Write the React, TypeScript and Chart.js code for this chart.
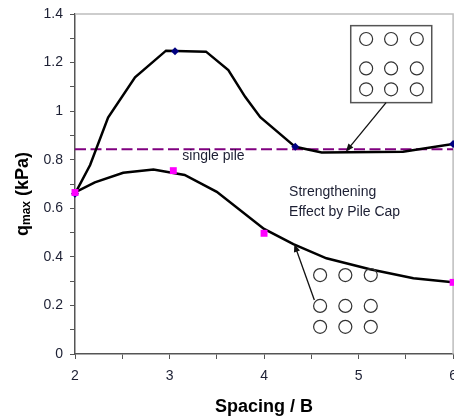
import React, { useEffect, useRef } from 'react';
import { Chart, registerables } from 'chart.js';
Chart.register(...registerables);

// Series data (Spacing / B vs q_max in kPa)
const upperX = [2, 2.16, 2.35, 2.635, 2.963, 3.386, 3.622, 3.8, 3.96, 4.33, 4.61, 5.47, 6];
const upperY = [0.66, 0.778, 0.974, 1.139, 1.249, 1.245, 1.169, 1.059, 0.975, 0.853, 0.83, 0.833, 0.865];
const lowerX = [2, 2.21, 2.51, 2.83, 3.16, 3.5, 4.0, 4.31, 4.66, 5.12, 5.58, 6];
const lowerY = [0.665, 0.707, 0.746, 0.76, 0.737, 0.668, 0.515, 0.452, 0.394, 0.349, 0.312, 0.295];
const diamondX = [2, 3.058, 4.33, 6];
const diamondY = [0.66, 1.247, 0.853, 0.865];
const squareX = [2, 3.04, 4.0, 6];
const squareY = [0.665, 0.755, 0.497, 0.295];
const singlePile = 0.843;
const xLabels = ['2', '3', '4', '5', '6'];
const yLabels = ['0', '0.2', '0.4', '0.6', '0.8', '1', '1.2', '1.4'];

// Annotation anchors (in data units)
const capBox = { x0: 4.917, x1: 5.774, y0: 1.352, y1: 1.035 };
const capCirclesX = [5.08, 5.344, 5.616];
const capCirclesY = [1.297, 1.176, 1.09];
const freeCirclesX = [4.593, 4.86, 5.129];
const freeCirclesY = [0.325, 0.198, 0.112];
const arrowCap = [5.291, 1.035, 4.865, 0.833];
const arrowFree = [4.532, 0.222, 4.32, 0.453];
const singlePileLabel = { x: 3.135, y: 0.815, text: 'single pile' };
const effectLabel = { x: 4.265, y: 0.667, lines: ['Strengthening', 'Effect by Pile Cap'], dy: 0.082 };

const FONT = '"Liberation Sans", Arial, sans-serif';
const TXT = '#1c1f33';

const pts = (xs: number[], ys: number[]) => xs.map((x, i) => ({ x, y: ys[i] }));

const annotPlugin = {
  id: 'annot',
  beforeDatasetsDraw(chart: any) {
    const { ctx, chartArea: a } = chart;
    ctx.save();
    ctx.strokeStyle = '#bdbdbd';
    ctx.lineWidth = 1.5;
    ctx.beginPath();
    ctx.moveTo(a.left, a.top);
    ctx.lineTo(a.right, a.top);
    ctx.lineTo(a.right, a.bottom);
    ctx.stroke();
    ctx.restore();
  },
  afterDatasetsDraw(chart: any) {
    const { ctx, scales } = chart;
    const px = (v: number) => scales.x.getPixelForValue(v);
    const py = (v: number) => scales.y.getPixelForValue(v);
    ctx.save();
    ctx.fillStyle = '#ffffff';
    ctx.strokeStyle = '#555555';
    ctx.lineWidth = 1.5;
    const bx = px(capBox.x0), by = py(capBox.y0);
    const bw = px(capBox.x1) - bx, bh = py(capBox.y1) - by;
    ctx.fillRect(bx, by, bw, bh);
    ctx.strokeRect(bx, by, bw, bh);
    const circles = (xs: number[], ys: number[]) => {
      ctx.strokeStyle = '#333333';
      ctx.lineWidth = 1.2;
      ys.forEach((yy) => xs.forEach((xx) => {
        ctx.beginPath();
        ctx.arc(px(xx), py(yy), 6.5, 0, Math.PI * 2);
        ctx.stroke();
      }));
    };
    circles(capCirclesX, capCirclesY);
    circles(freeCirclesX, freeCirclesY);
    const arrow = (r: number[]) => {
      const x0 = px(r[0]), y0 = py(r[1]), x1 = px(r[2]), y1 = py(r[3]);
      const ang = Math.atan2(y1 - y0, x1 - x0);
      ctx.strokeStyle = '#111';
      ctx.fillStyle = '#111';
      ctx.lineWidth = 1.3;
      ctx.beginPath();
      ctx.moveTo(x0, y0);
      ctx.lineTo(x1 - 5 * Math.cos(ang), y1 - 5 * Math.sin(ang));
      ctx.stroke();
      const L = 8, W = 3.2;
      ctx.beginPath();
      ctx.moveTo(x1, y1);
      ctx.lineTo(x1 - L * Math.cos(ang) + W * Math.sin(ang), y1 - L * Math.sin(ang) - W * Math.cos(ang));
      ctx.lineTo(x1 - L * Math.cos(ang) - W * Math.sin(ang), y1 - L * Math.sin(ang) + W * Math.cos(ang));
      ctx.closePath();
      ctx.fill();
    };
    arrow(arrowCap);
    arrow(arrowFree);
    ctx.fillStyle = TXT;
    ctx.textBaseline = 'middle';
    ctx.textAlign = 'left';
    ctx.font = `14px ${FONT}`;
    ctx.fillText(singlePileLabel.text, px(singlePileLabel.x), py(singlePileLabel.y));
    effectLabel.lines.forEach((t, i) => {
      ctx.fillText(t, px(effectLabel.x), py(effectLabel.y - i * effectLabel.dy));
    });
    ctx.restore();
  },
  afterDraw(chart: any) {
    const { ctx, chartArea: a } = chart;
    ctx.save();
    ctx.fillStyle = '#000';
    ctx.font = `bold 18px ${FONT}`;
    ctx.textAlign = 'center';
    ctx.textBaseline = 'alphabetic';
    ctx.fillText('Spacing / B', (a.left + a.right) / 2, 412);
    ctx.translate(27.5, 236);
    ctx.rotate(-Math.PI / 2);
    ctx.textAlign = 'left';
    ctx.font = `bold 18px ${FONT}`;
    ctx.fillText('q', 0, 0);
    let w = ctx.measureText('q').width;
    ctx.font = `bold 12px ${FONT}`;
    ctx.fillText('max', w, 2);
    w += ctx.measureText('max').width;
    ctx.font = `bold 18px ${FONT}`;
    ctx.fillText(' (kPa)', w, 0);
    ctx.restore();
  },
};

export default function App() {
  const ref = useRef<HTMLCanvasElement>(null);
  useEffect(() => {
    if (!ref.current) return;
    const chart = new Chart(ref.current, {
      type: 'scatter',
      data: {
        datasets: [
          {
            data: pts(squareX, squareY),
            showLine: false,
            pointStyle: 'rect',
            pointRadius: 4.9,
            pointBackgroundColor: '#ff00ff',
            pointBorderColor: '#ff00ff',
            pointBorderWidth: 0,
            clip: false,
          },
          {
            data: pts(diamondX, diamondY),
            showLine: false,
            pointStyle: 'rectRot',
            pointRadius: 4,
            pointBackgroundColor: '#000080',
            pointBorderColor: '#000080',
            pointBorderWidth: 0,
            clip: false,
          },
          {
            data: pts(upperX, upperY),
            showLine: true,
            borderColor: '#000',
            borderWidth: 2.5,
            pointRadius: 0,
            tension: 0,
          },
          {
            data: pts(lowerX, lowerY),
            showLine: true,
            borderColor: '#000',
            borderWidth: 2.5,
            pointRadius: 0,
            tension: 0,
          },
          {
            data: [{ x: 2, y: singlePile }, { x: 6, y: singlePile }],
            showLine: true,
            borderColor: '#800080',
            borderWidth: 2,
            borderDash: [11, 4.5],
            pointRadius: 0,
          },
        ],
      },
      options: {
        animation: false,
        responsive: true,
        maintainAspectRatio: false,
        layout: { padding: { top: 14, right: 1, left: 0, bottom: 0 } },
        plugins: { legend: { display: false }, tooltip: { enabled: false }, title: { display: false } },
        scales: {
          x: {
            type: 'linear',
            min: 2,
            max: 6,
            afterFit: (s: any) => { s.height = 65; s.paddingLeft = 0; s.paddingRight = 0; },
            border: { color: '#555', width: 1.5 },
            grid: { display: true, drawOnChartArea: false, drawTicks: true, tickLength: 5, color: '#555', lineWidth: 1 },
            ticks: {
              stepSize: 0.5,
              autoSkip: false,
              maxRotation: 0,
              padding: 9,
              color: TXT,
              font: { family: FONT, size: 14 },
              callback: (v: any) => {
                const n = Number(v);
                const i = Math.round(n - 2);
                return Math.abs(n - Math.round(n)) < 1e-6 ? xLabels[i] : '';
              },
            },
          },
          y: {
            type: 'linear',
            min: 0,
            max: 1.4,
            afterFit: (s: any) => { s.width = 75; s.paddingTop = 0; s.paddingBottom = 0; },
            border: { color: '#555', width: 1.5 },
            grid: { display: true, drawOnChartArea: false, drawTicks: true, tickLength: 5, color: '#555', lineWidth: 1 },
            ticks: {
              stepSize: 0.1,
              autoSkip: false,
              padding: 7,
              color: TXT,
              font: { family: FONT, size: 14 },
              callback: (v: any) => {
                const k = Math.round(Number(v) * 10);
                return k % 2 === 0 ? yLabels[k / 2] : '';
              },
            },
          },
        },
      },
      plugins: [annotPlugin],
    } as any);
    return () => chart.destroy();
  }, []);
  return (
    <div style={{ position: 'fixed', left: 0, top: 0, width: 458, height: 419, background: '#fff' }}>
      <canvas ref={ref} />
    </div>
  );
}
